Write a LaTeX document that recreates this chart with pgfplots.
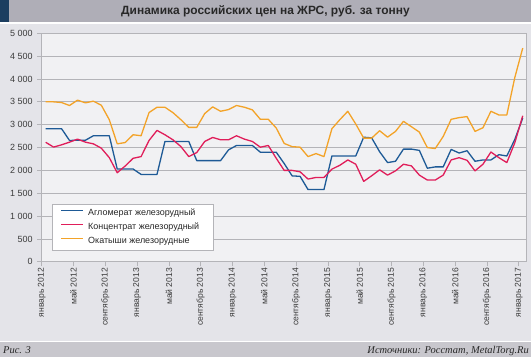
\documentclass[border=0pt]{standalone}
\usepackage{pgfplots}
\usepackage{pgfplotstable}
\pgfplotsset{compat=1.18}
\usepackage{fontspec}
\setmainfont{Liberation Sans}
\newfontfamily\serif{Liberation Serif}
\definecolor{titlebg}{RGB}{175,174,183}
\definecolor{darkblue}{RGB}{28,62,96}
\definecolor{chartbg}{RGB}{228,228,233}
\definecolor{plotbg}{RGB}{241,241,243}
\definecolor{footbg}{RGB}{200,199,205}
\definecolor{gridc}{RGB}{180,180,184}
\definecolor{cblue}{RGB}{30,90,150}
\definecolor{cred}{RGB}{224,30,90}
\definecolor{corange}{RGB}{243,163,40}
\definecolor{txt}{RGB}{40,40,40}
\definecolor{ticktxt}{RGB}{60,60,60}

\pgfplotstableread{
i v
0 2912
1 2912
2 2912
3 2655
4 2660
5 2660
6 2758
7 2758
8 2758
9 2030
10 2030
11 2030
12 1912
13 1912
14 1912
15 2633
16 2633
17 2633
18 2633
19 2214
20 2214
21 2214
22 2214
23 2449
24 2545
25 2545
26 2545
27 2398
28 2398
29 2398
30 2150
31 1880
32 1870
33 1580
34 1580
35 1580
36 2315
37 2315
38 2315
39 2315
40 2726
41 2712
42 2409
43 2171
44 2200
45 2466
46 2466
47 2438
48 2048
49 2077
50 2077
51 2459
52 2380
53 2430
54 2200
55 2229
56 2229
57 2344
58 2315
59 2676
60 3144
}\aglo

\pgfplotstableread{
i v
0 2615
1 2510
2 2560
3 2618
4 2684
5 2618
6 2581
7 2486
8 2280
9 1949
10 2096
11 2265
12 2302
13 2655
14 2875
15 2780
16 2670
17 2523
18 2302
19 2390
20 2633
21 2721
22 2670
23 2670
24 2758
25 2684
26 2633
27 2508
28 2545
29 2265
30 2000
31 2000
32 1969
33 1810
34 1846
35 1846
36 2027
37 2113
38 2229
39 2135
40 1760
41 1882
42 2012
43 1897
44 1990
45 2135
46 2099
47 1897
48 1789
49 1789
50 1897
51 2229
52 2279
53 2221
54 1990
55 2135
56 2402
57 2279
58 2171
59 2603
60 3195
}\konc

\pgfplotstableread{
i v
0 3500
1 3500
2 3485
3 3420
4 3537
5 3478
6 3515
7 3426
8 3110
9 2581
10 2610
11 2780
12 2758
13 3265
14 3382
15 3382
16 3265
17 3110
18 2941
19 2941
20 3243
21 3390
22 3294
23 3331
24 3420
25 3382
26 3324
27 3118
28 3118
29 2927
30 2590
31 2520
32 2508
33 2302
34 2368
35 2302
36 2912
37 3110
38 3294
39 3015
40 2706
41 2706
42 2868
43 2728
44 2853
45 3074
46 2956
47 2838
48 2500
49 2478
50 2743
51 3118
52 3155
53 3177
54 2853
55 2934
56 3294
57 3213
58 3213
59 4029
60 4676
}\okat

\begin{document}
\begin{tikzpicture}
\path[use as bounding box] (0bp,0bp) rectangle (531bp,357bp);
\fill[white] (0bp,0bp) rectangle (531bp,357bp);
\fill[footbg] (0bp,0bp) rectangle (531bp,14.5bp);
\fill[chartbg] (0bp,15.5bp) rectangle (531bp,333bp);
\fill[titlebg] (0bp,334.5bp) rectangle (531bp,357bp);
\fill[darkblue] (0bp,334.5bp) rectangle (9bp,357bp);
\node[font=\fontsize{12}{14}\selectfont\bfseries, text=txt] at (265.5bp,345.5bp) {Динамика российских цен на ЖРС, руб. за тонну};
\node[font=\serif\itshape\fontsize{10.5}{12}\selectfont, text=txt, anchor=base west, inner sep=0pt] at (3bp,3.5bp) {Рис. 3};
\node[font=\serif\itshape\fontsize{10.5}{12}\selectfont, text=txt, anchor=base east, inner sep=0pt] at (529bp,3.5bp) {Источники: Росстат, MetalTorg.Ru};
\begin{axis}[
  scale only axis, width=485bp, height=228.5bp,
  at={(41.7bp,95.2bp)}, anchor=south west,
  xmin=-0.5, xmax=60.5, ymin=0, ymax=5000,
  axis background/.style={fill=plotbg},
  axis line style={gridc, line width=0.8bp},
  ymajorgrids, grid style={gridc, line width=0.8bp},
  tick pos=left, tick align=outside, major tick length=4.5bp,
  tick style={gridc, line width=0.8bp},
  ytick={0,500,1000,1500,2000,2500,3000,3500,4000,4500,5000},
  yticklabels={0,500,1 000,1 500,2 000,2 500,3 000,3 500,4 000,4 500,5 000},
  xtick={-0.5,3.5,7.5,11.5,15.5,19.5,23.5,27.5,31.5,35.5,39.5,43.5,47.5,51.5,55.5,59.5},
  xticklabels={январь 2012,май 2012,сентябрь 2012,январь 2013,май 2013,сентябрь 2013,январь 2014,май 2014,сентябрь 2014,январь 2015,май 2015,сентябрь 2015,январь 2016,май 2016,сентябрь 2016,январь 2017},
  xticklabel style={rotate=90, anchor=east, font=\fontsize{8.6}{10}\selectfont, text=ticktxt, inner sep=1.5bp},
  yticklabel style={font=\fontsize{9}{10}\selectfont, text=ticktxt, inner sep=1.5bp, xshift=-3bp},
  legend style={at={(0.0212,0.253)}, anchor=north west, draw=gridc, line width=0.8bp, fill=white,
    font=\fontsize{9}{11}\selectfont, text=txt, inner xsep=8bp, inner ysep=3bp,
    row sep=2bp, column sep=3bp,
    nodes={inner sep=1.5bp, text height=7bp, text depth=2bp}},
  legend cell align=left,
  legend image code/.code={\draw[#1] (0bp,3bp) -- (22bp,3bp);},
  every axis plot/.append style={line width=1.3bp, line join=round},
]
\addplot[cblue] table[x=i, y=v] {\aglo};
\addlegendentry{\makebox[116bp][l]{Агломерат железорудный}}
\addplot[cred] table[x=i, y=v] {\konc};
\addlegendentry{\makebox[116bp][l]{Концентрат железорудный}}
\addplot[corange] table[x=i, y=v] {\okat};
\addlegendentry{\makebox[116bp][l]{Окатыши железорудные}}
\end{axis}
\end{tikzpicture}
\end{document}
